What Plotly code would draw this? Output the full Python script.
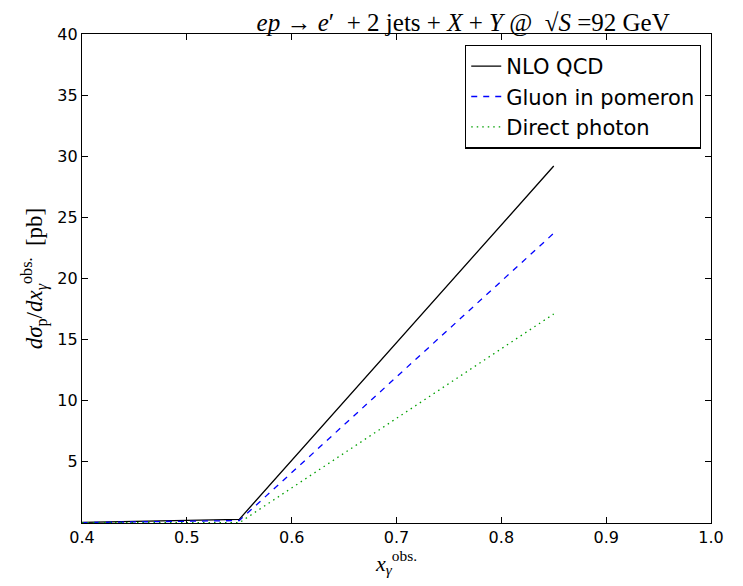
import plotly.graph_objects as go

x_vals = [0.4, 0.55, 0.85]
nlo_qcd = [0.05, 0.3, 29.2]
gluon_pomeron = [0.03, 0.2, 23.7]
direct_photon = [0.02, 0.02, 17.1]

x_ticks = [0.4, 0.5, 0.6, 0.7, 0.8, 0.9, 1.0]
y_ticks = [5, 10, 15, 20, 25, 30, 35, 40]

fig = go.Figure()
fig.add_trace(go.Scatter(x=x_vals, y=nlo_qcd, mode="lines", name="NLO QCD",
                         line=dict(color="black", width=1.3)))
fig.add_trace(go.Scatter(x=x_vals, y=gluon_pomeron, mode="lines", name="Gluon in pomeron",
                         line=dict(color="blue", width=1.3, dash="6px,6px")))
fig.add_trace(go.Scatter(x=x_vals, y=direct_photon, mode="lines", name="Direct photon",
                         line=dict(color="#00a000", width=1.3, dash="1.5px,4px")))

axis_common = dict(showgrid=False, zeroline=False, showline=True, linecolor="black",
                   linewidth=1.3, mirror="ticks", ticks="inside", ticklen=6,
                   tickcolor="black", tickfont=dict(family="DejaVu Sans", size=16, color="black"))

title_text = ("<i>ep</i>\u00a0→\u00a0<i>e</i>′\u00a0\u00a0+\u00a02\u00a0jets\u00a0+\u00a0<i>X</i>\u00a0+\u00a0<i>Y</i>"
              "\u00a0@\u00a0\u00a0√<i>S</i>\u00a0=92\u00a0GeV")

fig.update_layout(
    width=743, height=586,
    margin=dict(l=74, r=40, t=26, b=71),
    plot_bgcolor="white", paper_bgcolor="white",
    title=dict(text=title_text,
               x=0.606, xref="paper", xanchor="center", y=0.975, yanchor="middle",
               font=dict(family="Liberation Serif", size=25, color="black")),
    xaxis=dict(range=[0.4, 1.0], tickvals=x_ticks, ticktext=[f"{v:.1f}" for v in x_ticks],
               title=dict(text="<i>x</i><sub><i>γ</i></sub><sup>obs.</sup>", standoff=4,
                          font=dict(family="Liberation Serif", size=22, color="black")),
               **axis_common),
    yaxis=dict(range=[0, 40], tickvals=y_ticks, ticktext=[str(v) for v in y_ticks],
               title=dict(text="<i>dσ</i><sub>p</sub>/<i>dx</i><sub><i>γ</i></sub><sup>obs.</sup>  [pb]",
                          standoff=8,
                          font=dict(family="Liberation Serif", size=23, color="black")),
               **axis_common),
    legend=dict(x=0.984, y=0.978, xanchor="right", yanchor="top",
                bgcolor="white", bordercolor="black", borderwidth=1.3,
                font=dict(family="DejaVu Sans", size=21, color="black"),
                tracegroupgap=0),
    showlegend=True,
)

fig.write_html("out.html")
